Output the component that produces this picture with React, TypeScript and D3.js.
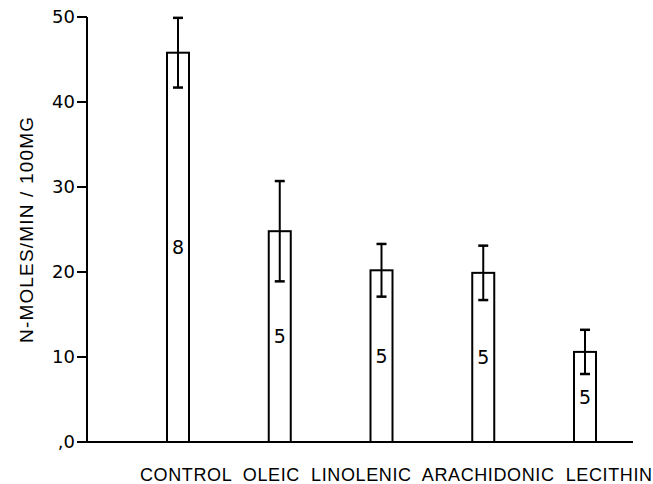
import React from 'react';
import * as d3 from 'd3';

// Values
const categories = ['CONTROL', 'OLEIC', 'LINOLENIC', 'ARACHIDONIC', 'LECITHIN'];
const means = [45.8, 24.8, 20.2, 19.9, 10.6];
const errors = [4.1, 5.9, 3.1, 3.2, 2.6];
const nValues = ['8', '5', '5', '5', '5'];
const yTicks = [0, 10, 20, 30, 40, 50];
const yTickLabels = [',0', '10', '20', '30', '40', '50'];
const yTitle = 'N-MOLES/MIN / 100MG';

const width = 653;
const height = 484;
const font = "'Liberation Sans', Arial, sans-serif";
const numFont = "'DejaVu Sans', sans-serif";

export default function App() {
  const y = d3.scaleLinear().domain([0, 50]).range([442, 17]);
  const x = d3.scalePoint<string>().domain(categories).range([178, 585]);
  const barW = 22;
  const capW = 10;
  const axisLeft = 87;
  const axisRight = 633;

  return (
    <svg
      width={width}
      height={height}
      style={{ position: 'absolute', left: 0, top: 0, background: '#fff' }}
      fontFamily={font}
    >
      {/* y axis */}
      <line x1={axisLeft} x2={axisLeft} y1={y(50)} y2={y(0)} stroke="#000" strokeWidth={2} />
      {yTicks.map((t, i) => (
        <g key={t}>
          <line x1={axisLeft - 10} x2={axisLeft} y1={y(t)} y2={y(t)} stroke="#000" strokeWidth={2} />
          <text x={axisLeft - 12} y={y(t)} dy="0.36em" textAnchor="end" fontSize={18} fontFamily={numFont}>
            {yTickLabels[i]}
          </text>
        </g>
      ))}
      <text
        transform={`translate(33,230) rotate(-90)`}
        textAnchor="middle"
        fontSize={19}
        textLength={226}
        lengthAdjust="spacing"
      >
        {yTitle}
      </text>

      {/* bars */}
      {categories.map((c, i) => {
        const cx = x(c)!;
        return (
          <g key={c}>
            <rect
              x={cx - barW / 2}
              y={y(means[i])}
              width={barW}
              height={y(0) - y(means[i])}
              fill="#fff"
              stroke="#000"
              strokeWidth={2}
            />
            <line x1={cx} x2={cx} y1={y(means[i] + errors[i])} y2={y(means[i] - errors[i])} stroke="#000" strokeWidth={2} />
            <line x1={cx - capW / 2} x2={cx + capW / 2} y1={y(means[i] + errors[i])} y2={y(means[i] + errors[i])} stroke="#000" strokeWidth={2.5} />
            <line x1={cx - capW / 2} x2={cx + capW / 2} y1={y(means[i] - errors[i])} y2={y(means[i] - errors[i])} stroke="#000" strokeWidth={2.5} />
            <text x={cx} y={y(means[i] / 2)} dy="0.36em" textAnchor="middle" fontSize={19} fontFamily={numFont}>
              {nValues[i]}
            </text>
          </g>
        );
      })}

      {/* x axis */}
      <line x1={axisLeft} x2={axisRight} y1={y(0)} y2={y(0)} stroke="#000" strokeWidth={2} />

      {/* category labels */}
      <text
        x={140}
        y={481}
        fontSize={18}
        textLength={512}
        lengthAdjust="spacing"
        style={{ whiteSpace: 'pre' }}
      >
        {categories.join('  ')}
      </text>
    </svg>
  );
}
